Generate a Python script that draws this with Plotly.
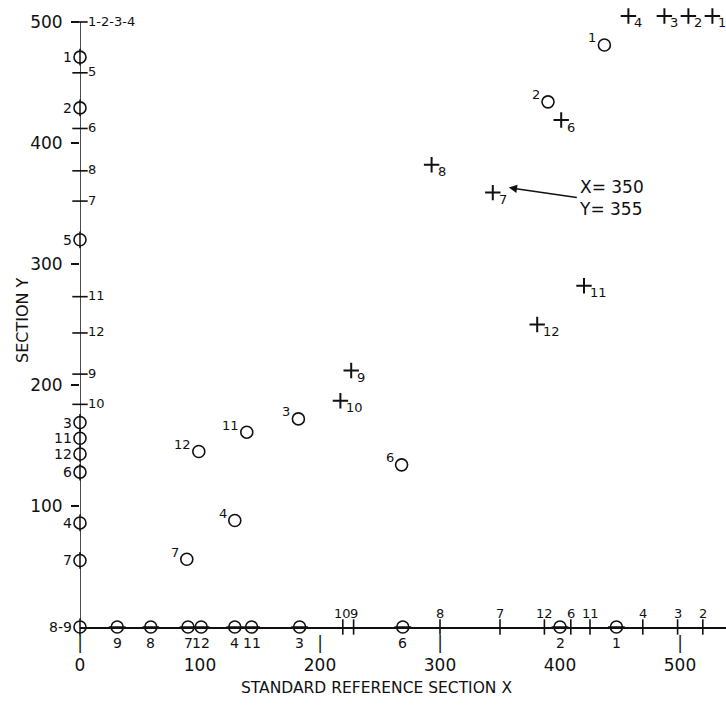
import plotly.graph_objects as go

# ---------------- data ----------------
# Points plotted in the field: circles (o) and plus marks (+)
circle_labels = ["1", "2", "3", "4", "6", "7", "11", "12"]
circle_x = [437, 390, 182, 129, 268, 89, 139, 99]
circle_y = [481, 434, 172, 88, 134, 56, 161, 145]

plus_labels = ["1", "2", "3", "4", "6", "7", "8", "9", "10", "11", "12"]
plus_x = [527, 507, 487, 457, 401, 344, 293, 226, 217, 420, 381]
plus_y = [505, 505, 505, 505, 419, 359, 382, 212, 187, 282, 250]

# Projections marked along the Y axis
ycirc_labels = ["1", "2", "5", "3", "11", "12", "6", "4", "7", "8-9"]
ycirc_vals = [471, 429, 320, 169, 156, 143, 128, 86, 55, 0]
yplus_labels = ["1-2-3-4", "5", "6", "8", "7", "11", "12", "9", "10"]
yplus_vals = [500, 458, 412, 377, 352, 273, 243, 209, 184]

# Projections marked along the X axis
xcirc_labels = ["9", "8", "7", "12", "4", "11", "3", "6", "2", "1"]
xcirc_vals = [31, 59, 90, 101, 129, 143, 183, 269, 400, 447]
xplus_labels = ["10", "9", "8", "7", "12", "6", "11", "4", "3", "2"]
xplus_vals = [219, 228, 300, 350, 387, 409, 425, 469, 498, 519]

# Axis ticks
y_axis_top = 500
x_tick_vals = [0, 100, 200, 300, 400, 500]
x_tick_text = ["|<br>0", " <br>100", "|<br>200", "|<br>300", " <br>400", "|<br>500"]
y_tick_vals = [100, 200, 300, 400, 500]
y_tick_text = ["100", "200", "300", "400", "500"]

callout_text = "X= 350<br>Y= 355"
x_title = "STANDARD REFERENCE SECTION X"
y_title = "SECTION Y"

# ---------------- style ----------------
INK = "#111111"
FONT = "DejaVu Sans"
W, H = 726, 723
ML, MB = 80, 96
PLOT_W, PLOT_H = W - ML, H - MB
PX_PER_X = 1.2
PX_PER_Y = 1.21

circle_marker = dict(symbol="circle-open", size=12, color=INK, line=dict(width=1.6, color=INK))
axis_circle_marker = dict(symbol="circle", size=12, color="white", line=dict(width=1.6, color=INK))
plus_marker = dict(symbol="cross-thin-open", size=11, color=INK, line=dict(width=2, color=INK))
ytick_marker = dict(symbol="line-ew-open", size=11, color=INK, line=dict(width=1.6, color=INK))
xtick_marker = dict(symbol="line-ns-open", size=11, color=INK, line=dict(width=1.6, color=INK))


def pts(x, y, marker):
    return go.Scatter(x=x, y=y, mode="markers", marker=marker, cliponaxis=False,
                      hoverinfo="skip", showlegend=False)


fig = go.Figure()
fig.add_trace(pts(circle_x, circle_y, circle_marker))
fig.add_trace(pts(plus_x, plus_y, plus_marker))
fig.add_trace(pts([0] * len(yplus_vals), yplus_vals, ytick_marker))
fig.add_trace(pts(xplus_vals, [0] * len(xplus_vals), xtick_marker))
fig.add_trace(pts([0] * len(ycirc_vals), ycirc_vals, axis_circle_marker))
fig.add_trace(pts(xcirc_vals, [0] * len(xcirc_vals), axis_circle_marker))
# axis line passing through the open circles that sit on the axes
fig.add_trace(pts([0] * len(ycirc_vals), ycirc_vals,
                  dict(symbol="line-ns-open", size=12, color=INK, line=dict(width=1.5, color=INK))))
fig.add_trace(pts(xcirc_vals, [0] * len(xcirc_vals),
                  dict(symbol="line-ew-open", size=12, color=INK, line=dict(width=1.5, color=INK))))


def labels(xs, ys, texts, xanchor, xshift, yshift, size):
    return [dict(x=x, y=y, xref="x", yref="y", text=t, showarrow=False,
                 xanchor=xanchor, yanchor="middle", xshift=xshift, yshift=yshift,
                 font=dict(family=FONT, size=size, color=INK))
            for x, y, t in zip(xs, ys, texts)]


annots = []
annots += labels(circle_x, circle_y, circle_labels, "right", -6, 7, 13)
annots += labels(plus_x, plus_y, plus_labels, "left", 4, -7, 13)
annots += labels([0] * len(ycirc_vals), ycirc_vals, ycirc_labels, "right", -6, 0, 14)
annots += labels([0] * len(yplus_vals), yplus_vals, yplus_labels, "left", 6, 1, 13)
annots += labels(xcirc_vals, [0] * len(xcirc_vals), xcirc_labels, "center", 0, -16, 14)
annots += labels(xplus_vals, [0] * len(xplus_vals), xplus_labels, "center", 0, 14, 13)

# call-out for point 7
annots.append(dict(x=plus_x[5], y=plus_y[5], xref="x", yref="y", xshift=16, yshift=5,
                   text=callout_text, showarrow=True, arrowhead=2, arrowsize=1.1, arrowwidth=1.5,
                   arrowcolor=INK, ax=68, ay=10, xanchor="left", yanchor="middle", align="left",
                   font=dict(family=FONT, size=17, color=INK)))

# axis titles
annots.append(dict(x=(376 - ML) / PLOT_W, y=(PLOT_H - 688) / PLOT_H, xref="paper", yref="paper",
                   text=x_title, showarrow=False, xanchor="center", yanchor="middle",
                   font=dict(family=FONT, size=15.5, color=INK)))
annots.append(dict(x=(22 - ML) / PLOT_W, y=(PLOT_H - 320) / PLOT_H, xref="paper", yref="paper",
                   text=y_title, showarrow=False, textangle=-90, xanchor="center", yanchor="middle",
                   font=dict(family=FONT, size=16, color=INK)))

fig.update_layout(
    width=W, height=H,
    margin=dict(l=ML, r=0, t=0, b=MB, pad=0, autoexpand=False),
    paper_bgcolor="white", plot_bgcolor="white",
    annotations=annots,
    shapes=[dict(type="line", xref="x", yref="y", x0=0, x1=0, y0=0, y1=y_axis_top,
                 line=dict(color=INK, width=1.5), layer="below")],
    xaxis=dict(range=[0, PLOT_W / PX_PER_X], showgrid=False, zeroline=False, automargin=False,
               showline=True, linecolor=INK, linewidth=1.5,
               tickmode="array", tickvals=x_tick_vals, ticktext=x_tick_text, ticks="",
               ticklabelstandoff=0,
               tickfont=dict(family=FONT, size=17, color=INK)),
    yaxis=dict(range=[0, PLOT_H / PX_PER_Y], showgrid=False, zeroline=False, automargin=False,
               showline=False,
               tickmode="array", tickvals=y_tick_vals, ticktext=y_tick_text,
               ticks="outside", ticklen=8, tickwidth=1.5, tickcolor=INK,
               ticklabelstandoff=5,
               tickfont=dict(family=FONT, size=17, color=INK)),
)

fig.write_html("out.html")
